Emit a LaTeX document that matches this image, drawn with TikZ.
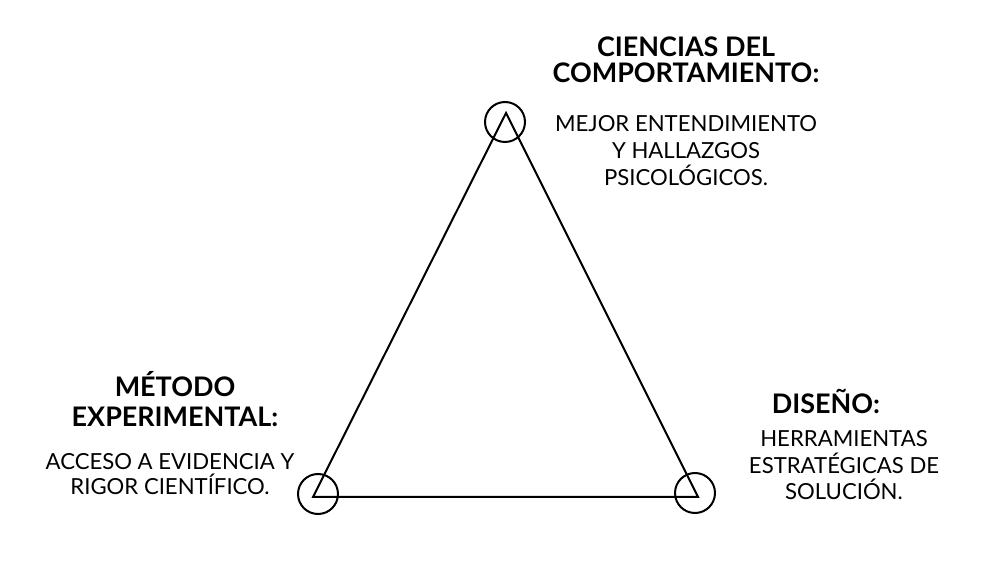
\documentclass[tikz,border=0pt]{standalone}
\usepackage{fontspec}
\setmainfont{Lato}
\begin{document}
\begin{tikzpicture}[x=0.75pt,y=-0.75pt,
  edge/.style={line width=1.5pt,line join=miter},
  ring/.style={circle,draw,line width=1.5pt,minimum size=30pt,inner sep=0pt},
  head/.style={font=\bfseries,align=center,anchor=base,inner sep=0pt},
  body/.style={align=center,anchor=base,inner sep=0pt}]
\useasboundingbox[fill=white] (0,0) rectangle (1000,566);
% vertices
\coordinate (A) at (506,113);
\coordinate (B) at (313,497);
\coordinate (C) at (698,497);
\draw[edge] (A) -- (B) -- (C) -- cycle;
\node[ring] (rA) at (505,122) {};
\node[ring] (rB) at (318,494) {};
\node[ring] (rC) at (695,493) {};
% top
\node[head,font=\fontsize{20.2}{19.5}\selectfont\bfseries] (h1) at (686,83) {CIENCIAS DEL\\ COMPORTAMIENTO:};
\node[body,font=\fontsize{16.6}{20.25}\selectfont] (b1) at (686,186) {MEJOR ENTENDIMIENTO\\ Y HALLAZGOS\\ PSICOLÓGICOS.};
% left
\node[head,font=\fontsize{20.2}{22.5}\selectfont\bfseries] (h2) at (175,427) {MÉTODO\\ EXPERIMENTAL:};
\node[body,font=\fontsize{16.6}{18.75}\selectfont] (b2) at (170,495) {ACCESO A EVIDENCIA Y\\ RIGOR CIENTÍFICO.};
% right
\node[head,font=\fontsize{20.2}{22.5}\selectfont\bfseries] (h3) at (826,414) {DISEÑO:};
\node[body,font=\fontsize{16.6}{19.9}\selectfont] (b3) at (844,500) {HERRAMIENTAS\\ ESTRATÉGICAS DE\\ SOLUCIÓN.};
\end{tikzpicture}
\end{document}
